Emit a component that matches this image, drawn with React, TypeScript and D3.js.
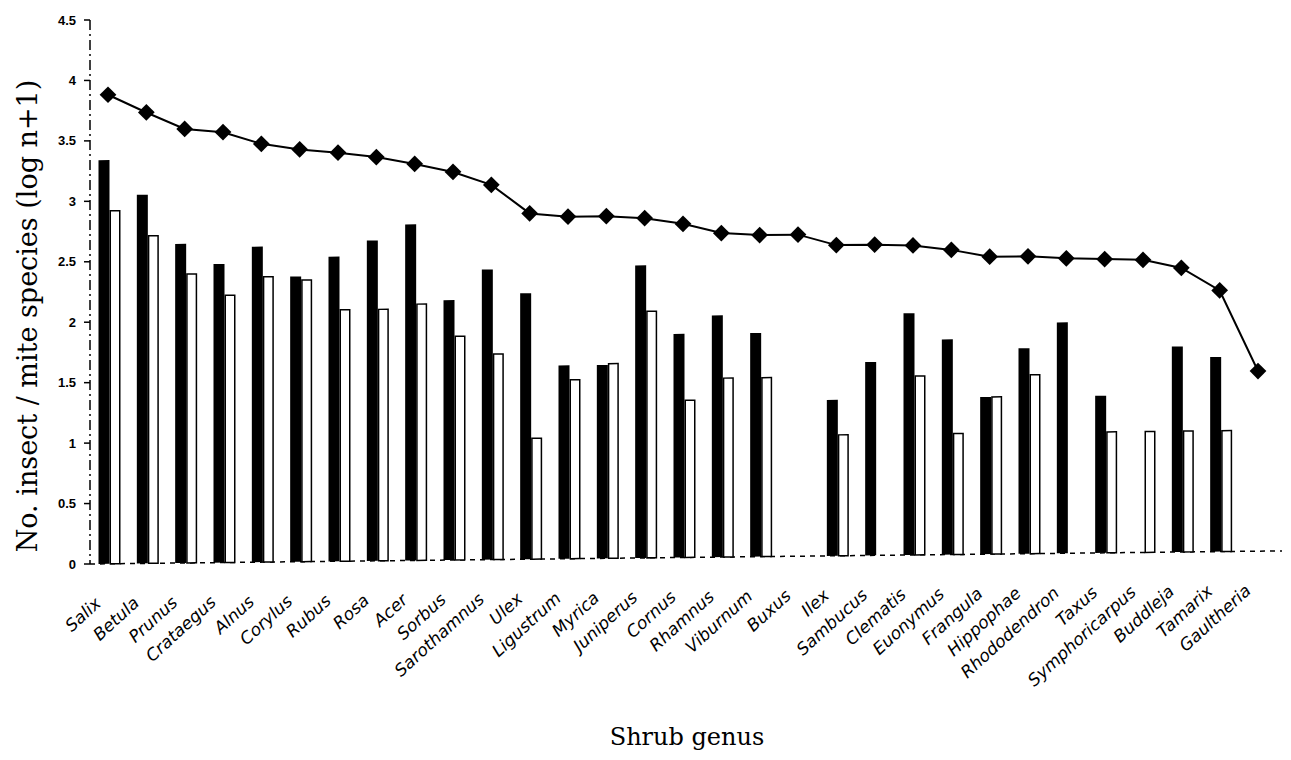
import React from 'react';
import * as d3 from 'd3';

const genera = [
  'Salix', 'Betula', 'Prunus', 'Crataegus', 'Alnus', 'Corylus', 'Rubus', 'Rosa',
  'Acer', 'Sorbus', 'Sarothamnus', 'Ulex', 'Ligustrum', 'Myrica', 'Juniperus',
  'Cornus', 'Rhamnus', 'Viburnum', 'Buxus', 'Ilex', 'Sambucus', 'Clematis',
  'Euonymus', 'Frangula', 'Hippophae', 'Rhododendron', 'Taxus', 'Symphoricarpus',
  'Buddleja', 'Tamarix', 'Gaultheria',
];

// diamonds: all species
const totalSpecies = [
  3.88, 3.73, 3.59, 3.56, 3.46, 3.41, 3.38, 3.34, 3.28, 3.21, 3.1, 2.86, 2.83,
  2.83, 2.81, 2.76, 2.68, 2.66, 2.66, 2.57, 2.57, 2.56, 2.52, 2.46, 2.46, 2.44,
  2.43, 2.42, 2.35, 2.16, 1.49,
];

// black bars
const seriesA = [
  3.34, 3.05, 2.64, 2.47, 2.61, 2.36, 2.52, 2.65, 2.78, 2.15, 2.4, 2.2, 1.6, 1.6,
  2.42, 1.85, 2.0, 1.85, 0, 1.29, 1.6, 2.0, 1.78, 1.3, 1.7, 1.91, 1.3, 0, 1.7,
  1.61, 0,
];

// white bars
const seriesB = [
  2.92, 2.71, 2.39, 2.21, 2.36, 2.33, 2.08, 2.08, 2.12, 1.85, 1.7, 1.0, 1.48,
  1.61, 2.04, 1.3, 1.48, 1.48, 0, 1.0, 0, 1.48, 1.0, 1.3, 1.48, 0, 1.0, 1.0, 1.0,
  1.0, 0,
];

const yTicks = [0, 0.5, 1, 1.5, 2, 2.5, 3, 3.5, 4, 4.5];

const W = 1291;
const H = 760;
const axisX = 90;
const plotTop = 20;
const plotBottom = 564;

export default function App() {
  const x = d3.scalePoint<string>().domain(genera).range([108, 1258]);
  const y = d3.scaleLinear().domain([0, 4.5]).range([plotBottom, plotTop]);

  const line = d3
    .line<number>()
    .x((_, i) => x(genera[i]) as number)
    .y((d) => y(d));

  const diamond = d3.symbol().type(d3.symbolSquare).size(140)();

  const sans = "'DejaVu Sans', Verdana, sans-serif";
  const serif = "'DejaVu Serif', serif";

  return (
    <svg
      width={W}
      height={H}
      style={{ position: 'absolute', left: 0, top: 0, background: '#fff' }}
    >
      {/* y axis */}
      <line
        x1={axisX}
        x2={axisX}
        y1={y(4.5)}
        y2={y(0)}
        stroke="#000"
        strokeWidth={1.5}
        strokeDasharray="10,4,2,4"
      />
      {yTicks.map((t) => (
        <g key={t} transform={`translate(0,${y(t)})`}>
          <line x1={axisX - 6} x2={axisX} stroke="#000" strokeWidth={1.5} />
          <text
            x={axisX - 14}
            dy="0.35em"
            textAnchor="end"
            fontFamily="'Liberation Sans', Arial, sans-serif"
            fontWeight="bold"
            fontSize={13}
          >
            {t}
          </text>
        </g>
      ))}
      <text
        transform={`translate(37,${316}) rotate(-90)`}
        textAnchor="middle"
        fontFamily={serif}
        fontSize={27}
      >
        No. insect / mite species (log n+1)
      </text>

      {/* plot body, slightly sheared like the scanned page */}
      <g transform={`translate(${axisX},${plotBottom}) skewY(-0.63) translate(${-axisX},${-plotBottom})`}>
        <line
          x1={axisX}
          x2={1282}
          y1={y(0)}
          y2={y(0)}
          stroke="#000"
          strokeWidth={1.5}
          strokeDasharray="5,5"
        />
        {genera.map((g, i) => {
          const cx = x(g) as number;
          return (
            <g key={g}>
              {seriesA[i] > 0 && (
                <rect
                  x={cx - 9.5}
                  y={y(seriesA[i])}
                  width={11}
                  height={y(0) - y(seriesA[i])}
                  fill="#000"
                />
              )}
              {seriesB[i] > 0 && (
                <rect
                  x={cx + 2.25}
                  y={y(seriesB[i])}
                  width={9.5}
                  height={y(0) - y(seriesB[i])}
                  fill="#fff"
                  stroke="#000"
                  strokeWidth={1.5}
                />
              )}
            </g>
          );
        })}
        <path d={line(totalSpecies) || ''} fill="none" stroke="#000" strokeWidth={2} />
        {totalSpecies.map((v, i) => (
          <path
            key={genera[i]}
            d={diamond || ''}
            transform={`translate(${x(genera[i])},${y(v)}) rotate(45)`}
            fill="#000"
          />
        ))}
        {genera.map((g) => (
          <text
            key={g}
            transform={`translate(${(x(g) as number) - 6},${plotBottom + 41}) rotate(-42)`}
            textAnchor="end"
            fontFamily={sans}
            fontStyle="italic"
            fontSize={17}
          >
            {g}
          </text>
        ))}
      </g>

      <text
        x={687}
        y={745}
        textAnchor="middle"
        fontFamily={serif}
        fontSize={24}
      >
        Shrub genus
      </text>
    </svg>
  );
}
